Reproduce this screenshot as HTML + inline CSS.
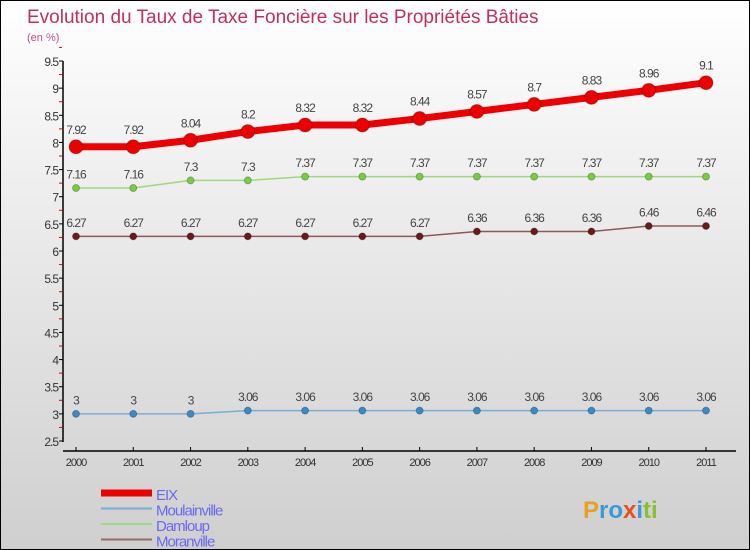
<!DOCTYPE html>
<html><head><meta charset="utf-8"><style>
body{margin:0}
#c{width:750px;height:550px;position:relative;box-sizing:border-box;border:1px solid #000;background:linear-gradient(#fff,#f0f0f0 30%,#cfcfcf);font-family:"Liberation Sans",sans-serif;overflow:hidden}
svg{position:absolute;left:0;top:0}
</style></head><body>
<div id="c">
<svg id="s" width="750" height="550">
<text x="26" y="22" font-size="19" fill="#c0305a">Evolution du Taux de Taxe Foncière sur les Propriétés Bâties</text>
<text x="26" y="40" font-size="11" fill="#c0508a">(en %)</text>
</svg>
</div>
<script>
const years=[2000,2001,2002,2003,2004,2005,2006,2007,2008,2009,2010,2011];
const eix=[7.92,7.92,8.04,8.2,8.32,8.32,8.44,8.57,8.7,8.83,8.96,9.1];
const moulainville=[3,3,3,3.06,3.06,3.06,3.06,3.06,3.06,3.06,3.06,3.06];
const damloup=[7.16,7.16,7.3,7.3,7.37,7.37,7.37,7.37,7.37,7.37,7.37,7.37];
const moranville=[6.27,6.27,6.27,6.27,6.27,6.27,6.27,6.36,6.36,6.36,6.46,6.46];
const yTicks=[2.5,3,3.5,4,4.5,5,5.5,6,6.5,7,7.5,8,8.5,9,9.5];
const s=document.getElementById('s');const NS='http://www.w3.org/2000/svg';
const X=i=>75+i*(630/11);
const Y=v=>440-(v-2.5)*(380/7);
function mk(t,a,p){const e=document.createElementNS(NS,t);for(const k in a)e.setAttribute(k,a[k]);(p||s).appendChild(e);return e;}
let ax=mk('line',{x1:62,y1:60,x2:62,y2:441,stroke:'#000','stroke-width':1.5});


yTicks.forEach(v=>{mk('line',{x1:58,x2:62,y1:Y(v),y2:Y(v),stroke:'#000'});
mk('line',{x1:58,x2:61,y1:Y(v+0.25),y2:Y(v+0.25),stroke:'#e00'});
const t=mk('text',{x:57,y:Y(v)+5,'text-anchor':'end','font-size':12,fill:'#333','letter-spacing':'-1'});t.textContent=v;

});
let xa=mk('line',{x1:62,y1:450,x2:735,y2:450,stroke:'#000','stroke-width':1.5});


years.forEach((y,i)=>{mk('line',{x1:X(i),x2:X(i),y1:446,y2:450,stroke:'#000'});
const t=mk('text',{x:X(i),y:465,'text-anchor':'middle','font-size':11,fill:'#333','letter-spacing':'-1'});t.textContent=y;

});
function series(d,name,col,w,r,dot){
const g=mk('g',{});


mk('polyline',{points:d.map((v,i)=>X(i)+','+Y(v)).join(' '),fill:'none',stroke:col,'stroke-width':w,'stroke-linejoin':'round'},g);
d.forEach((v,i)=>{const c=mk('circle',{cx:X(i),cy:Y(v),r:r,fill:dot,stroke:'rgba(0,0,0,0.25)'},g);


const t=mk('text',{x:X(i),y:Y(v)-(r+6),'text-anchor':'middle','font-size':12,fill:'#444','letter-spacing':'-1'},g);t.textContent=v;

});}
series(moulainville,'moulainville','#7aaed0',1.5,3.5,'#3a8ac8');
series(moranville,'moranville','#8a5a5a',1.5,3.5,'#6a1a1a');
series(damloup,'damloup','#9ed880',1.5,3.5,'#7acc40');
series(eix,'eix','#ee0000',7,7,'#ee0000');
const leg=[['EIX','#ee0000',7],['Moulainville','#7aaed0',2],['Damloup','#9ed880',2],['Moranville','#956a6a',2]];
leg.forEach((l,i)=>{const y=492+i*15.5;const g=mk('g',{});


mk('line',{x1:100,x2:151,y1:y,y2:y,stroke:l[1],'stroke-width':l[2]},g);
const t=mk('text',{x:155,y:y+7,'font-size':15,fill:'#6a6af0','letter-spacing':'-1'},g);t.textContent=l[0];});
const p=mk('text',{x:582,y:517,'font-size':24,'font-weight':'bold',fill:'#3a9ad8'});


p.innerHTML='<tspan fill="#e8a020">P</tspan><tspan fill="#3a9ad8">ro</tspan><tspan fill="#e85020">x</tspan><tspan fill="#3a9ad8">i</tspan><tspan fill="#8ac030">ti</tspan>';
</script>
</body></html>
